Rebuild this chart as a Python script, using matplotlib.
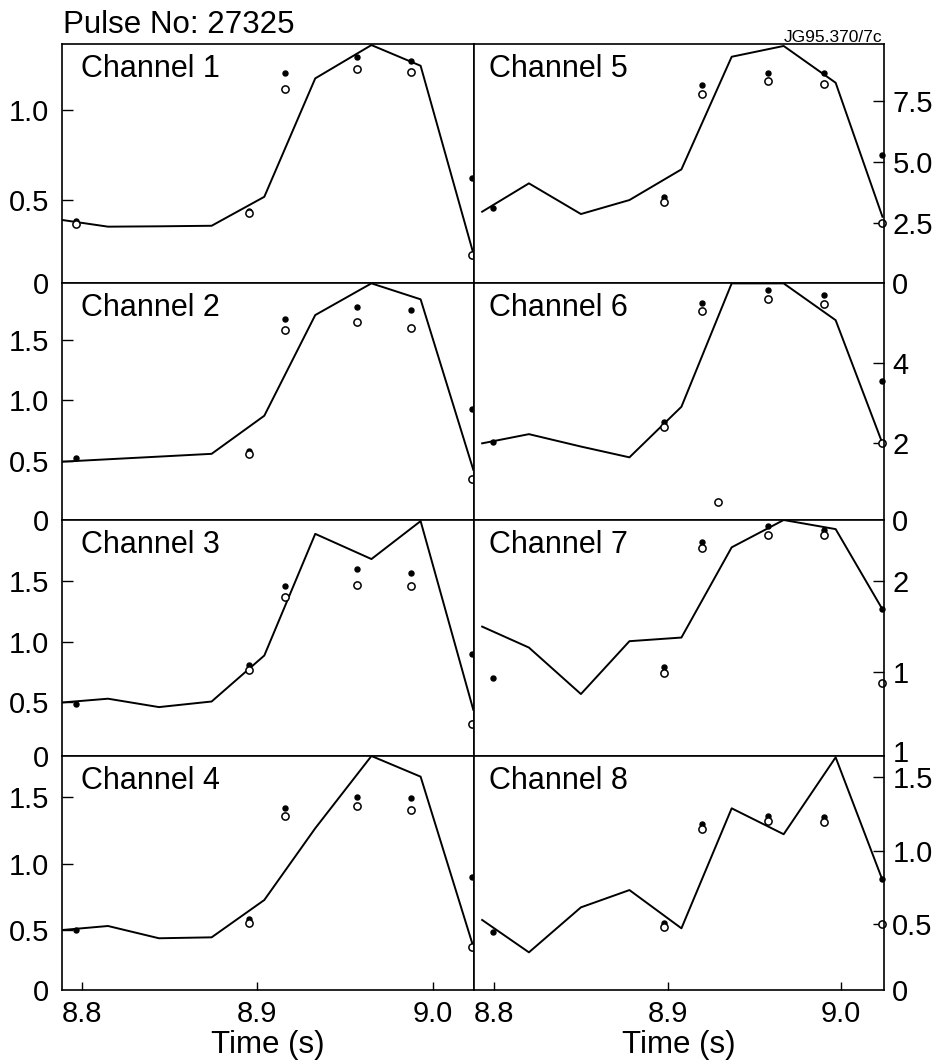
import numpy as np
import matplotlib
matplotlib.use("Agg")
import matplotlib.pyplot as plt

plt.rcParams["font.family"] = ["Liberation Sans", "DejaVu Sans"]

nan = np.nan

# Temps (s) : modele (ligne) et mesures (points), par colonne
t_model_left = [8.789, 8.815, 8.844, 8.874, 8.904, 8.933, 8.965, 8.993, 9.023]
t_model_right = [8.793, 8.820, 8.850, 8.878, 8.908, 8.937, 8.967, 8.997, 9.024]
t_points_left = [8.7965, 8.895, 8.9155, 8.9565, 8.9875, 9.022]
t_points_right = [8.799, 8.898, 8.920, 8.958, 8.990, 9.0237]

# Canal 1..8 : modele, points pleins, points ouverts
ch1_model = [0.389, 0.352, 0.354, 0.357, 0.518, 1.176, 1.361, 1.246, 0.204]
ch1_dots = [0.385, 0.439, 1.204, 1.296, 1.274, 0.624]
ch1_circles = [0.367, 0.426, 1.118, 1.229, 1.213, 0.194]

ch2_model = [0.492, 0.512, 0.534, 0.557, 0.872, 1.704, 1.966, 1.834, 0.425]
ch2_dots = [0.520, 0.580, 1.669, 1.773, 1.745, 0.925]
ch2_circles = [nan, 0.555, 1.580, 1.646, 1.599, 0.346]

ch3_model = [0.500, 0.531, 0.462, 0.508, 0.886, 1.886, 1.679, 1.991, 0.440]
ch3_dots = [0.489, 0.812, 1.454, 1.597, 1.564, 0.902]
ch3_circles = [nan, 0.764, 1.363, 1.467, 1.454, 0.324]

ch4_model = [0.502, 0.532, 0.440, 0.447, 0.727, 1.265, 1.807, 1.652, 0.377]
ch4_dots = [0.502, 0.582, 1.415, 1.502, 1.494, 0.902]
ch4_circles = [nan, 0.557, 1.357, 1.432, 1.402, 0.372]

ch5_model = [2.975, 4.13, 2.88, 3.45, 4.70, 9.29, 9.73, 8.23, 2.77]
ch5_dots = [3.11, 3.56, 8.14, 8.64, 8.61, 5.29]
ch5_circles = [nan, 3.36, 7.76, 8.30, 8.17, 2.53]

ch6_model = [2.00, 2.23, 1.92, 1.65, 2.915, 6.0, 6.0, 5.08, 2.00]
ch6_dots = [2.04, 2.54, 5.515, 5.83, 5.71, 3.56]
ch6_circles = [nan, 2.40, 5.315, 5.61, 5.48, 2.00]
ch6_extra_t = [8.929]
ch6_extra_circles = [0.54]

ch7_model = [1.50, 1.27, 0.76, 1.34, 1.38, 2.37, 2.67, 2.57, 1.69]
ch7_dots = [0.94, 1.06, 2.43, 2.60, 2.56, 1.69]
ch7_circles = [nan, 0.99, 2.36, 2.51, 2.51, 0.88]

ch8_model = [0.526, 0.305, 0.612, 0.730, 0.469, 1.288, 1.111, 1.636, 0.799]
ch8_dots = [0.446, 0.503, 1.181, 1.235, 1.231, 0.803]
ch8_circles = [nan, 0.480, 1.145, 1.201, 1.197, 0.498]

# Axes y : limites, graduations et libelles
ylims = [(0.039, 1.367), (0.01, 1.969), (0.06, 2.0), (0.052, 1.807),
         (0.069, 9.81), (0.083, 6.01), (0.08, 2.67), (0.048, 1.645)]
yticks = [[0.5, 1.0], [0.5, 1.0, 1.5], [0.5, 1.0, 1.5], [0.5, 1.0, 1.5],
          [2.5, 5.0, 7.5], [2, 4], [1, 2], [0.5, 1.0, 1.5]]
yticklabels = [["0.5", "1.0"], ["0.5", "1.0", "1.5"], ["0.5", "1.0", "1.5"],
               ["0.5", "1.0", "1.5"], ["2.5", "5.0", "7.5"], ["2", "4"],
               ["1", "2"], ["0.5", "1.0", "1.5"]]
bottom_labels = ["0", "0", "0", "0", "0", "0", "1", "0"]
# petit decalage du libelle du bas (canal 7 : evite le "1.5" du canal 8)
bottom_shift = [0, 0, 0, 0, 0, 0, 0.06, 0]

xticks = [8.8, 8.9, 9.0]
xticklabels = ["8.8", "8.9", "9.0"]

channels = [
    (ch1_model, ch1_dots, ch1_circles),
    (ch2_model, ch2_dots, ch2_circles),
    (ch3_model, ch3_dots, ch3_circles),
    (ch4_model, ch4_dots, ch4_circles),
    (ch5_model, ch5_dots, ch5_circles),
    (ch6_model, ch6_dots, ch6_circles),
    (ch7_model, ch7_dots, ch7_circles),
    (ch8_model, ch8_dots, ch8_circles),
]

W, H = 941, 1064
fig = plt.figure(figsize=(W / 100, H / 100), dpi=100)

col_x = [(62, 474), (474, 884)]
col_xlim = [(8.7888, 9.0234), (8.7883, 9.0249)]
row_y = [44, 283, 520, 756, 990]

for i, (model, dots, circles) in enumerate(channels):
    col = i // 4
    row = i % 4
    x0, x1 = col_x[col]
    y0, y1 = row_y[row], row_y[row + 1]
    ax = fig.add_axes([x0 / W, 1 - y1 / H, (x1 - x0) / W, (y1 - y0) / H])

    t_model = t_model_left if col == 0 else t_model_right
    t_pts = t_points_left if col == 0 else t_points_right

    ax.plot(t_model, model, color="black", linewidth=1.4)
    ax.plot(t_pts, dots, "o", color="black", markersize=3.6, clip_on=False)
    ax.plot(t_pts, circles, "o", markerfacecolor="white", markeredgecolor="black",
            markersize=5.2, markeredgewidth=1.1, clip_on=False)
    if i == 5:
        ax.plot(ch6_extra_t, ch6_extra_circles, "o", markerfacecolor="white",
                markeredgecolor="black", markersize=5.2, markeredgewidth=1.1)

    ax.set_xlim(*col_xlim[col])
    ax.set_ylim(*ylims[i])

    ax.set_yticks([ylims[i][0] + bottom_shift[i]] + yticks[i])
    ax.set_yticklabels([bottom_labels[i]] + yticklabels[i])

    if col == 0:
        ax.tick_params(axis="y", left=True, right=False, labelleft=True,
                       labelright=False, direction="in", length=8, width=1.0,
                       pad=9, labelsize=21)
    else:
        ax.yaxis.tick_right()
        ax.tick_params(axis="y", left=False, right=True, labelleft=False,
                       labelright=True, direction="in", length=8, width=1.0,
                       pad=6, labelsize=21)
    # pas de trait pour la graduation du bas
    first = ax.yaxis.get_major_ticks()[0]
    first.tick1line.set_visible(False)
    first.tick2line.set_visible(False)

    if row == 3:
        ax.set_xticks(xticks)
        ax.set_xticklabels(xticklabels)
        ax.tick_params(axis="x", direction="in", length=6, width=1.0,
                       pad=7, labelsize=21)
        ax.set_xlabel("Time (s)", fontsize=22.5, labelpad=2)
    else:
        ax.set_xticks([])

    for sp in ax.spines.values():
        sp.set_linewidth(1.2)

    dx = 19 if col == 0 else 15
    ax.text(dx / (x1 - x0), 1 - 10 / (y1 - y0), f"Channel {i + 1}",
            transform=ax.transAxes, fontsize=22, ha="left", va="top")

fig.text(63 / W, 1 - 33 / H, "Pulse No: 27325", fontsize=22.5,
         ha="left", va="baseline")
fig.text(882 / W, 1 - 42 / H, "JG95.370/7c", fontsize=12.5,
         ha="right", va="baseline")

fig.savefig("out.png", dpi=100, facecolor="white")
